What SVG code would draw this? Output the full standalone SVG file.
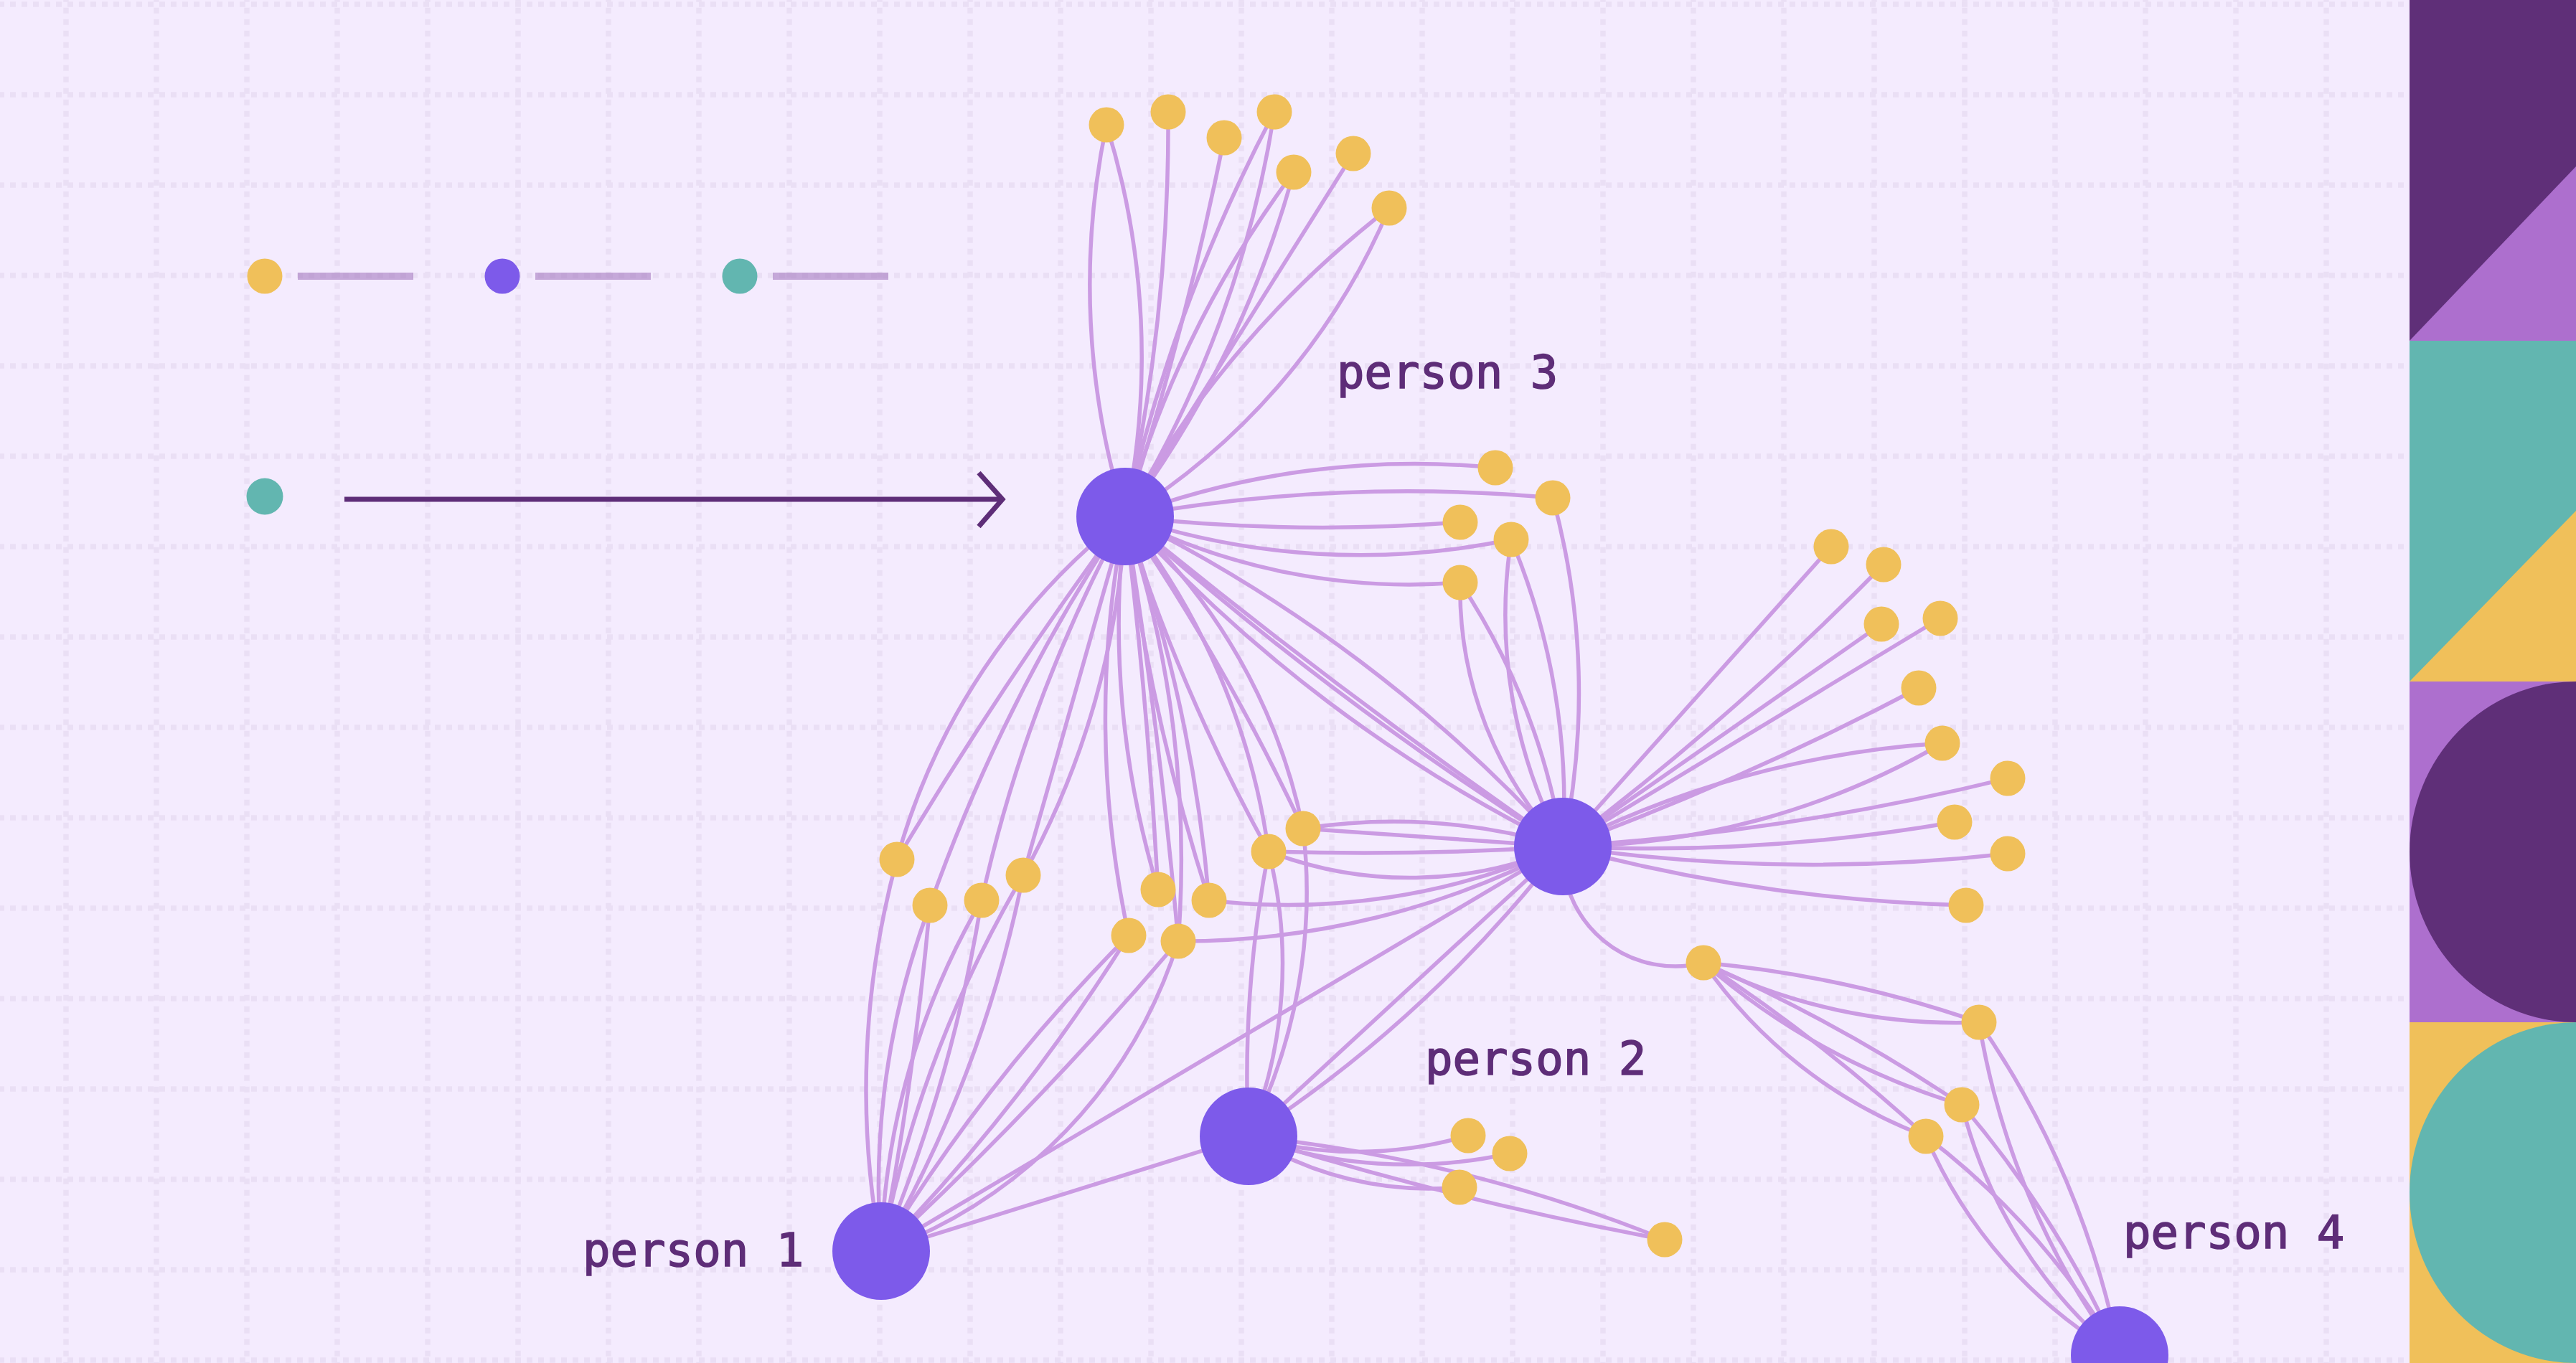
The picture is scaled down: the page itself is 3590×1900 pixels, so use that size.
<svg xmlns="http://www.w3.org/2000/svg" width="3590" height="1900" viewBox="0 0 3590 1900">
<style>
.gv{fill:none;stroke:#EADFF5;stroke-width:7.5;stroke-dasharray:8 8;stroke-dashoffset:5.3}
.gh{fill:none;stroke:#EADFF5;stroke-width:7.5;stroke-dasharray:8 8;stroke-dashoffset:2}
.e{fill:none;stroke:#CB9BE3;stroke-width:5.5}
.p{fill:#7D5AEA}
.y{fill:#F0C05A}
.t{fill:#62B6B0}
.lbl{font-family:"DejaVu Sans Mono","Liberation Mono",monospace;font-size:64px;fill:#5E2D78;stroke:#5E2D78;stroke-width:1.6}
.lg{stroke:#A57BC0;stroke-opacity:0.6;stroke-width:10}
</style>
<rect width="3590" height="1900" fill="#F4EBFE"/>
<g id="grid">
<path class="gv" d="M92 0V1900M218 0V1900M344 0V1900M470 0V1900M596 0V1900M722 0V1900M848 0V1900M974 0V1900M1100 0V1900M1226 0V1900M1352 0V1900M1478 0V1900M1604 0V1900M1730 0V1900M1856 0V1900M1982 0V1900M2108 0V1900M2234 0V1900M2360 0V1900M2486 0V1900M2612 0V1900M2738 0V1900M2864 0V1900M2990 0V1900M3116 0V1900M3242 0V1900"/>
<path class="gh" d="M0 6H3358M0 132H3358M0 258H3358M0 384H3358M0 510H3358M0 636H3358M0 762H3358M0 888H3358M0 1014H3358M0 1140H3358M0 1266H3358M0 1392H3358M0 1518H3358M0 1644H3358M0 1770H3358M0 1896H3358"/>
</g>
<g id="panel">
<rect x="3358" y="0" width="232" height="475" fill="#5F2F78"/>
<polygon points="3358,475 3590,232 3590,475" fill="#AD6FCE"/>
<rect x="3358" y="475" width="232" height="475" fill="#62B6B0"/>
<polygon points="3358,950 3590,712 3590,950" fill="#F0C05A"/>
<rect x="3358" y="950" width="232" height="475" fill="#AD6FCE"/>
<path d="M3590 950A232 237.5 0 0 0 3590 1425Z" fill="#5F2F78"/>
<rect x="3358" y="1425" width="232" height="475" fill="#F0C05A"/>
<path d="M3590 1425A232 237.5 0 0 0 3590 1900Z" fill="#62B6B0"/>
</g>
<g id="legend">
<circle class="y" cx="369" cy="385" r="24.5"/>
<line class="lg" x1="415" y1="385" x2="576" y2="385"/>
<circle class="p" cx="700" cy="385" r="24.5"/>
<line class="lg" x1="746" y1="385" x2="907" y2="385"/>
<circle class="t" cx="1031" cy="385" r="24.5"/>
<line class="lg" x1="1077" y1="385" x2="1238" y2="385"/>
<circle class="t" cx="369" cy="692" r="25.5"/>
<line x1="480" y1="696" x2="1395" y2="696" stroke="#5E2D78" stroke-width="7"/>
<polyline points="1364,659 1397,696 1364,734" fill="none" stroke="#5E2D78" stroke-width="7"/>
</g>
<g id="connectors">
<path class="e" d="M1542 174A1085 1085 0 0 0 1568 720"/>
<path class="e" d="M1542 174A1085 1085 0 0 1 1568 720"/>
<path class="e" d="M1628 156A2519 2519 0 0 1 1568 720"/>
<path class="e" d="M1706 192A4657 4657 0 0 1 1568 720"/>
<path class="e" d="M1776 156A2267 2267 0 0 0 1568 720"/>
<path class="e" d="M1776 156A1520 1520 0 0 1 1568 720"/>
<path class="e" d="M1803 240A1440 1440 0 0 0 1568 720"/>
<path class="e" d="M1803 240A1440 1440 0 0 1 1568 720"/>
<path class="e" d="M1886 214L1568 720"/>
<path class="e" d="M1936 290A1395 1395 0 0 0 1568 720"/>
<path class="e" d="M1936 290A932 932 0 0 1 1568 720"/>
<path class="e" d="M2084 652A1144 1144 0 0 0 1568 720"/>
<path class="e" d="M2164 694A2234 2234 0 0 0 1568 720"/>
<path class="e" d="M2164 694A1033 1033 0 0 1 2178 1180"/>
<path class="e" d="M2035 728A2484 2484 0 0 1 1568 720"/>
<path class="e" d="M2106 752A1027 1027 0 0 1 1568 720"/>
<path class="e" d="M2106 752A690 690 0 0 0 2178 1180"/>
<path class="e" d="M2106 752A954 954 0 0 1 2178 1180"/>
<path class="e" d="M2035 812A875 875 0 0 1 1568 720"/>
<path class="e" d="M2035 812A519 519 0 0 0 2178 1180"/>
<path class="e" d="M2035 812A938 938 0 0 1 2178 1180"/>
<path class="e" d="M1568 720A2045 2045 0 0 1 2178 1180"/>
<path class="e" d="M1568 720A9000 9000 0 0 0 2178 1180"/>
<path class="e" d="M1568 720A4568 4568 0 0 0 2178 1180"/>
<path class="e" d="M1568 720A2045 2045 0 0 0 2178 1180"/>
<path class="e" d="M1250 1198A918 918 0 0 1 1568 720"/>
<path class="e" d="M1250 1198A5887 5887 0 0 1 1568 720"/>
<path class="e" d="M1296 1262A2429 2429 0 0 1 1568 720"/>
<path class="e" d="M1368 1255A2048 2048 0 0 1 1568 720"/>
<path class="e" d="M1426 1220L1568 720"/>
<path class="e" d="M1426 1220A1141 1141 0 0 0 1568 720"/>
<path class="e" d="M1250 1198A1219 1219 0 0 0 1228 1744"/>
<path class="e" d="M1296 1262A4940 4940 0 0 1 1228 1744"/>
<path class="e" d="M1296 1262A1111 1111 0 0 0 1228 1744"/>
<path class="e" d="M1368 1255A2163 2163 0 0 1 1228 1744"/>
<path class="e" d="M1368 1255A1026 1026 0 0 0 1228 1744"/>
<path class="e" d="M1426 1220A1716 1716 0 0 1 1228 1744"/>
<path class="e" d="M1426 1220A1645 1645 0 0 0 1228 1744"/>
<path class="e" d="M1573 1304A1436 1436 0 0 1 1568 720"/>
<path class="e" d="M1614 1240A1275 1275 0 0 1 1568 720"/>
<path class="e" d="M1614 1240A8000 8000 0 0 0 1568 720"/>
<path class="e" d="M1685 1255A2092 2092 0 0 0 1568 720"/>
<path class="e" d="M1685 1255A2890 2890 0 0 1 1568 720"/>
<path class="e" d="M1642 1312A1498 1498 0 0 0 1568 720"/>
<path class="e" d="M1642 1312A8000 8000 0 0 0 1568 720"/>
<path class="e" d="M1768 1187A966 966 0 0 0 1568 720"/>
<path class="e" d="M1768 1187A2488 2488 0 0 1 1568 720"/>
<path class="e" d="M1816 1155A803 803 0 0 0 1568 720"/>
<path class="e" d="M1816 1155A3139 3139 0 0 0 1568 720"/>
<path class="e" d="M1816 1155L2178 1180"/>
<path class="e" d="M1816 1155A833 833 0 0 1 2178 1180"/>
<path class="e" d="M1768 1187A4206 4206 0 0 0 2178 1180"/>
<path class="e" d="M1768 1187A545 545 0 0 0 2178 1180"/>
<path class="e" d="M1685 1255A941 941 0 0 0 2178 1180"/>
<path class="e" d="M1642 1312A1137 1137 0 0 0 2178 1180"/>
<path class="e" d="M1573 1304A2306 2306 0 0 0 1228 1744"/>
<path class="e" d="M1573 1304A2612 2612 0 0 1 1228 1744"/>
<path class="e" d="M1642 1312A674 674 0 0 1 1228 1744"/>
<path class="e" d="M1642 1312A4971 4971 0 0 1 1228 1744"/>
<path class="e" d="M1228 1744L1740 1584"/>
<path class="e" d="M1228 1744L2178 1180"/>
<path class="e" d="M2178 1180A1788 1788 0 0 1 1740 1584"/>
<path class="e" d="M2178 1180L1740 1584"/>
<path class="e" d="M1768 1187A1656 1656 0 0 0 1740 1584"/>
<path class="e" d="M1768 1187A635 635 0 0 1 1740 1584"/>
<path class="e" d="M1816 1155A757 757 0 0 1 1740 1584"/>
<path class="e" d="M2046 1583A543 543 0 0 1 1740 1584"/>
<path class="e" d="M2104 1608A653 653 0 0 1 1740 1584"/>
<path class="e" d="M2034 1655A470 470 0 0 1 1740 1584"/>
<path class="e" d="M2320 1728A2136 2136 0 0 0 1740 1584"/>
<path class="e" d="M2320 1728A4965 4965 0 0 1 1740 1584"/>
<path class="e" d="M2552 762L2178 1180"/>
<path class="e" d="M2625 787A4031 4031 0 0 1 2178 1180"/>
<path class="e" d="M2622 870L2178 1180"/>
<path class="e" d="M2704 862L2178 1180"/>
<path class="e" d="M2674 959A4102 4102 0 0 1 2178 1180"/>
<path class="e" d="M2707 1036A1356 1356 0 0 0 2178 1180"/>
<path class="e" d="M2707 1036A1061 1061 0 0 1 2178 1180"/>
<path class="e" d="M2798 1085A3520 3520 0 0 1 2178 1180"/>
<path class="e" d="M2724 1146A2501 2501 0 0 1 2178 1180"/>
<path class="e" d="M2798 1190A2413 2413 0 0 1 2178 1180"/>
<path class="e" d="M2740 1262A2380 2380 0 0 1 2178 1180"/>
<path class="e" d="M2178 1180A157 157 0 0 0 2374 1342"/>
<path class="e" d="M2374 1342A1614 1614 0 0 1 2758 1425"/>
<path class="e" d="M2374 1342A784 784 0 0 0 2758 1425"/>
<path class="e" d="M2374 1342A2349 2349 0 0 1 2734 1540"/>
<path class="e" d="M2374 1342A970 970 0 0 0 2734 1540"/>
<path class="e" d="M2374 1342A659 659 0 0 0 2684 1584"/>
<path class="e" d="M2374 1342A2421 2421 0 0 1 2684 1584"/>
<path class="e" d="M2758 1425A1072 1072 0 0 0 2954 1889"/>
<path class="e" d="M2758 1425A1233 1233 0 0 1 2954 1889"/>
<path class="e" d="M2734 1540A661 661 0 0 0 2954 1889"/>
<path class="e" d="M2734 1540A1426 1426 0 0 1 2954 1889"/>
<path class="e" d="M2684 1584A645 645 0 0 0 2954 1889"/>
<path class="e" d="M2684 1584A1047 1047 0 0 1 2954 1889"/>
</g>
<g id="person3"><circle class="p" cx="1568" cy="720" r="68"/><text class="lbl" x="1863" y="541">person 3</text></g>
<g id="hub"><circle class="p" cx="2178" cy="1180" r="68"/></g>
<g id="person2"><circle class="p" cx="1740" cy="1584" r="68"/><text class="lbl" x="1986" y="1498">person 2</text></g>
<g id="person1"><circle class="p" cx="1228" cy="1744" r="68"/><text class="lbl" x="812" y="1765">person 1</text></g>
<g id="person4"><circle class="p" cx="2954" cy="1889" r="68"/><text class="lbl" x="2959" y="1740">person 4</text></g>
<g id="t1"><circle class="y" cx="1542" cy="174" r="24.5"/></g>
<g id="t2"><circle class="y" cx="1628" cy="156" r="24.5"/></g>
<g id="t3"><circle class="y" cx="1706" cy="192" r="24.5"/></g>
<g id="t4"><circle class="y" cx="1776" cy="156" r="24.5"/></g>
<g id="t5"><circle class="y" cx="1803" cy="240" r="24.5"/></g>
<g id="t6"><circle class="y" cx="1886" cy="214" r="24.5"/></g>
<g id="t7"><circle class="y" cx="1936" cy="290" r="24.5"/></g>
<g id="r1"><circle class="y" cx="2084" cy="652" r="24.5"/></g>
<g id="r2"><circle class="y" cx="2164" cy="694" r="24.5"/></g>
<g id="r3"><circle class="y" cx="2035" cy="728" r="24.5"/></g>
<g id="r4"><circle class="y" cx="2106" cy="752" r="24.5"/></g>
<g id="r5"><circle class="y" cx="2035" cy="812" r="24.5"/></g>
<g id="e1"><circle class="y" cx="2552" cy="762" r="24.5"/></g>
<g id="e2"><circle class="y" cx="2625" cy="787" r="24.5"/></g>
<g id="e3"><circle class="y" cx="2622" cy="870" r="24.5"/></g>
<g id="e4"><circle class="y" cx="2704" cy="862" r="24.5"/></g>
<g id="e5"><circle class="y" cx="2674" cy="959" r="24.5"/></g>
<g id="e6"><circle class="y" cx="2707" cy="1036" r="24.5"/></g>
<g id="e7"><circle class="y" cx="2798" cy="1085" r="24.5"/></g>
<g id="e8"><circle class="y" cx="2724" cy="1146" r="24.5"/></g>
<g id="e9"><circle class="y" cx="2798" cy="1190" r="24.5"/></g>
<g id="e10"><circle class="y" cx="2740" cy="1262" r="24.5"/></g>
<g id="f"><circle class="y" cx="2374" cy="1342" r="24.5"/></g>
<g id="g1"><circle class="y" cx="2758" cy="1425" r="24.5"/></g>
<g id="g2"><circle class="y" cx="2734" cy="1540" r="24.5"/></g>
<g id="g3"><circle class="y" cx="2684" cy="1584" r="24.5"/></g>
<g id="q1"><circle class="y" cx="2046" cy="1583" r="24.5"/></g>
<g id="q2"><circle class="y" cx="2104" cy="1608" r="24.5"/></g>
<g id="q3"><circle class="y" cx="2034" cy="1655" r="24.5"/></g>
<g id="q4"><circle class="y" cx="2320" cy="1728" r="24.5"/></g>
<g id="m1"><circle class="y" cx="1250" cy="1198" r="24.5"/></g>
<g id="m2"><circle class="y" cx="1296" cy="1262" r="24.5"/></g>
<g id="m3"><circle class="y" cx="1368" cy="1255" r="24.5"/></g>
<g id="m4"><circle class="y" cx="1426" cy="1220" r="24.5"/></g>
<g id="m5"><circle class="y" cx="1614" cy="1240" r="24.5"/></g>
<g id="m6"><circle class="y" cx="1685" cy="1255" r="24.5"/></g>
<g id="m7"><circle class="y" cx="1573" cy="1304" r="24.5"/></g>
<g id="m8"><circle class="y" cx="1642" cy="1312" r="24.5"/></g>
<g id="m9"><circle class="y" cx="1768" cy="1187" r="24.5"/></g>
<g id="m10"><circle class="y" cx="1816" cy="1155" r="24.5"/></g>
</svg>
